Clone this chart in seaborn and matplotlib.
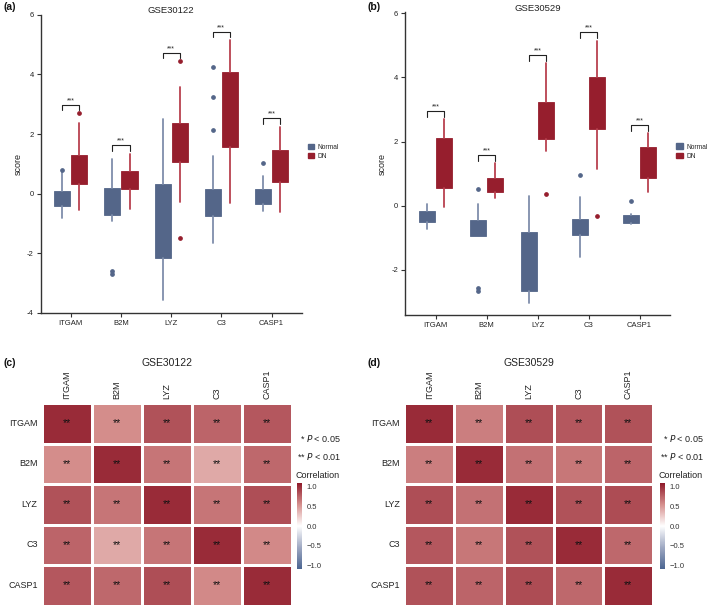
import numpy as np
import pandas as pd
import matplotlib
matplotlib.use('Agg')
import matplotlib.pyplot as plt
from matplotlib.patches import Patch
from matplotlib.colors import LinearSegmentedColormap
import seaborn as sns

sns.set_theme(style='white')
plt.rcParams['font.family'] = ['Liberation Sans', 'DejaVu Sans']
plt.rcParams['axes.unicode_minus'] = False

genes = ['ITGAM', 'B2M', 'LYZ', 'C3', 'CASP1']
groups = ['Normal', 'DN']

# --- GSE30122 box stats ---
a_normal_q1 = [-0.40, -0.73, -2.17, -0.76, -0.35]
a_normal_q3 = [0.08, 0.20, 0.31, 0.17, 0.16]
a_normal_lo = [-0.81, -0.93, -3.55, -1.67, -0.57]
a_normal_hi = [0.78, 1.17, 2.50, 1.25, 0.58]
a_normal_out = [[0.81], [-2.60, -2.68], [], [4.26, 3.24, 2.15], [1.04]]
a_dn_q1 = [0.32, 0.16, 1.07, 1.58, 0.38]
a_dn_q3 = [1.29, 0.76, 2.37, 4.07, 1.46]
a_dn_lo = [-0.56, -0.50, -0.27, -0.31, -0.63]
a_dn_hi = [2.37, 1.34, 3.57, 5.16, 2.25]
a_dn_out = [[2.72], [], [4.45, -1.50], [], []]
a_bracket = [2.98, 1.62, 4.73, 5.43, 2.53]

# --- GSE30529 box stats ---
b_normal_q1 = [-0.52, -0.94, -2.66, -0.93, -0.53]
b_normal_q3 = [-0.18, -0.46, -0.81, -0.41, -0.30]
b_normal_lo = [-0.72, -0.94, -3.05, -1.61, -0.57]
b_normal_hi = [0.06, 0.06, 0.30, 0.28, -0.25]
b_normal_out = [[], [0.51, -2.58, -2.66], [], [0.95], [0.15]]
b_dn_q1 = [0.56, 0.42, 2.09, 2.40, 0.87]
b_dn_q3 = [2.10, 0.87, 3.22, 4.00, 1.84]
b_dn_lo = [-0.03, 0.24, 1.70, 1.13, 0.42]
b_dn_hi = [2.70, 1.33, 4.46, 5.15, 2.25]
b_dn_out = [[], [], [0.37], [-0.31], []]
b_bracket = [2.96, 1.58, 4.70, 5.41, 2.51]

# --- correlation matrices ---
corr_30122 = [
    [1.00, 0.55, 0.82, 0.74, 0.80],
    [0.55, 1.00, 0.66, 0.42, 0.72],
    [0.82, 0.66, 1.00, 0.66, 0.84],
    [0.74, 0.42, 0.66, 1.00, 0.57],
    [0.80, 0.72, 0.84, 0.57, 1.00],
]
corr_30529 = [
    [1.00, 0.62, 0.84, 0.80, 0.82],
    [0.62, 1.00, 0.68, 0.65, 0.74],
    [0.84, 0.68, 1.00, 0.82, 0.85],
    [0.80, 0.65, 0.82, 1.00, 0.72],
    [0.82, 0.74, 0.85, 0.72, 1.00],
]
stars = [['**'] * 5 for _ in range(5)]

normal_col = '#546689'
dn_col = '#961E2D'
normal_wcol = '#7F8EAB'
dn_wcol = '#B9414F'

fig = plt.figure(figsize=(7.09, 6.08), dpi=100)


def draw_boxes(ax, q1s, q3s, los, his, outs, offset, color, wcolor):
    stats = []
    for q1, q3, lo, hi, out in zip(q1s, q3s, los, his, outs):
        # median line is not visible in the figure, so it is hidden
        stats.append(dict(q1=q1, q3=q3, med=q1, whislo=lo, whishi=hi, fliers=out))
    ax.bxp(stats, positions=np.arange(len(stats)) + offset, widths=0.32,
           patch_artist=True, showcaps=False,
           boxprops=dict(facecolor=color, edgecolor=color, linewidth=0.6),
           whiskerprops=dict(color=wcolor, linewidth=1.3),
           medianprops=dict(linewidth=0),
           flierprops=dict(marker='o', markersize=2.4, markerfacecolor=color,
                           markeredgecolor=color))


def box_panel(rect, title, normal, dn, brackets, ylim, yticks):
    ax = fig.add_axes(rect)
    draw_boxes(ax, *normal, -0.17, normal_col, normal_wcol)
    draw_boxes(ax, *dn, 0.17, dn_col, dn_wcol)
    for i, y in enumerate(brackets):
        ax.plot([i - 0.17, i - 0.17, i + 0.17, i + 0.17], [y - 0.19, y, y, y - 0.19],
                color='#222222', lw=0.8)
        ax.text(i, y + 0.02, '***', ha='center', va='bottom', fontsize=5, color='#222222')
    ax.set_xlim(-0.6, 4.6)
    ax.set_ylim(*ylim)
    ax.set_xticks(range(len(genes)))
    ax.set_xticklabels(genes, fontsize=5.5, color='#222222')
    ax.set_yticks(yticks)
    ax.set_yticklabels([str(t) for t in yticks], fontsize=5.5, color='#222222')
    ax.tick_params(axis='both', length=3, width=0.8, color='#333333', pad=2,
                   bottom=True, left=True)
    for s in ['top', 'right']:
        ax.spines[s].set_visible(False)
    for s in ['left', 'bottom']:
        ax.spines[s].set_color('#333333')
        ax.spines[s].set_linewidth(1.0)
    ax.set_ylabel('score', fontsize=6.5, labelpad=3, color='#222222')
    ax.set_title(title, fontsize=6.8, pad=1, color='#222222')
    handles = [Patch(facecolor=normal_col, edgecolor=normal_col, label=groups[0]),
               Patch(facecolor=dn_col, edgecolor=dn_col, label=groups[1])]
    ax.legend(handles=handles, loc='center left', bbox_to_anchor=(1.0, 0.54),
              frameon=False, fontsize=4.8, handlelength=1.0, handleheight=0.9,
              handletextpad=0.5, labelspacing=0.3)
    return ax


box_panel([0.0574, 0.4852, 0.368, 0.4906], 'GSE30122',
          (a_normal_q1, a_normal_q3, a_normal_lo, a_normal_hi, a_normal_out),
          (a_dn_q1, a_dn_q3, a_dn_lo, a_dn_hi, a_dn_out),
          a_bracket, (-4, 6), [-4, -2, 0, 2, 4, 6])
box_panel([0.5712, 0.4819, 0.374, 0.4979], 'GSE30529',
          (b_normal_q1, b_normal_q3, b_normal_lo, b_normal_hi, b_normal_out),
          (b_dn_q1, b_dn_q3, b_dn_lo, b_dn_hi, b_dn_out),
          b_bracket, (-3.41, 6.03), [-2, 0, 2, 4, 6])

# diverging scale with Lab-like stops so the reds stay warm
cmap = LinearSegmentedColormap.from_list(
    'corr',
    [(0.0, '#4B6591'), (0.25, '#9EA8C2'), (0.5, '#FFFFFF'),
     (0.75, '#D6908E'), (1.0, '#8F1A2A')])


def heat_panel(rect, crect, title, corr, txt_x):
    ax = fig.add_axes(rect)
    cax = fig.add_axes(crect)
    df = pd.DataFrame(corr, index=genes, columns=genes)
    sns.heatmap(df, ax=ax, cmap=cmap, vmin=-1.08, vmax=1.08,
                annot=np.array(stars), fmt='', annot_kws=dict(size=7.5, color='#111111'),
                linewidths=1.0, linecolor='white', cbar_ax=cax,
                cbar_kws=dict(ticks=[-1, -0.5, 0, 0.5, 1]))
    ax.xaxis.tick_top()
    ax.set_xticklabels(genes, rotation=90, fontsize=6.5, color='#222222')
    ax.set_yticklabels(genes, rotation=0, fontsize=6.5, color='#222222')
    ax.tick_params(length=0, pad=3)
    ax.set_xlabel('')
    ax.set_ylabel('')
    ax.set_title(title, fontsize=7.5, pad=27, color='#222222')
    cax.set_yticklabels(['\u22121.0', '\u22120.5', '0.0', '0.5', '1.0'], fontsize=5.5,
                        color='#333333')
    cax.tick_params(length=2, width=0.6, color='white', direction='in', pad=3)
    cax.text(-0.3, 1.04, 'Correlation', transform=cax.transAxes, fontsize=6.5,
             ha='left', va='bottom', color='#222222')
    fig.text(txt_x, 1 - 438 / 608, '* $\\it{P}$ < 0.05', fontsize=6.5, ha='right',
             va='center', color='#222222')
    fig.text(txt_x, 1 - 457 / 608, '** $\\it{P}$ < 0.01', fontsize=6.5, ha='right',
             va='center', color='#222222')
    return ax


heat_panel([0.0588, 0.0038, 0.3526, 0.333], [0.419, 0.0641, 0.0075, 0.1414],
           'GSE30122', corr_30122, 341 / 709)
heat_panel([0.5702, 0.0038, 0.3512, 0.333], [0.931, 0.0641, 0.0075, 0.1414],
           'GSE30529', corr_30529, 704 / 709)

for label, x, y in [('(a)', 4, 7), ('(b)', 367, 7), ('(c)', 4, 363), ('(d)', 367, 363)]:
    fig.text(x / 709, 1 - y / 608, label, fontsize=7.5, fontweight='bold',
             ha='left', va='center', color='#111111')

fig.savefig('out.png', dpi=100)
